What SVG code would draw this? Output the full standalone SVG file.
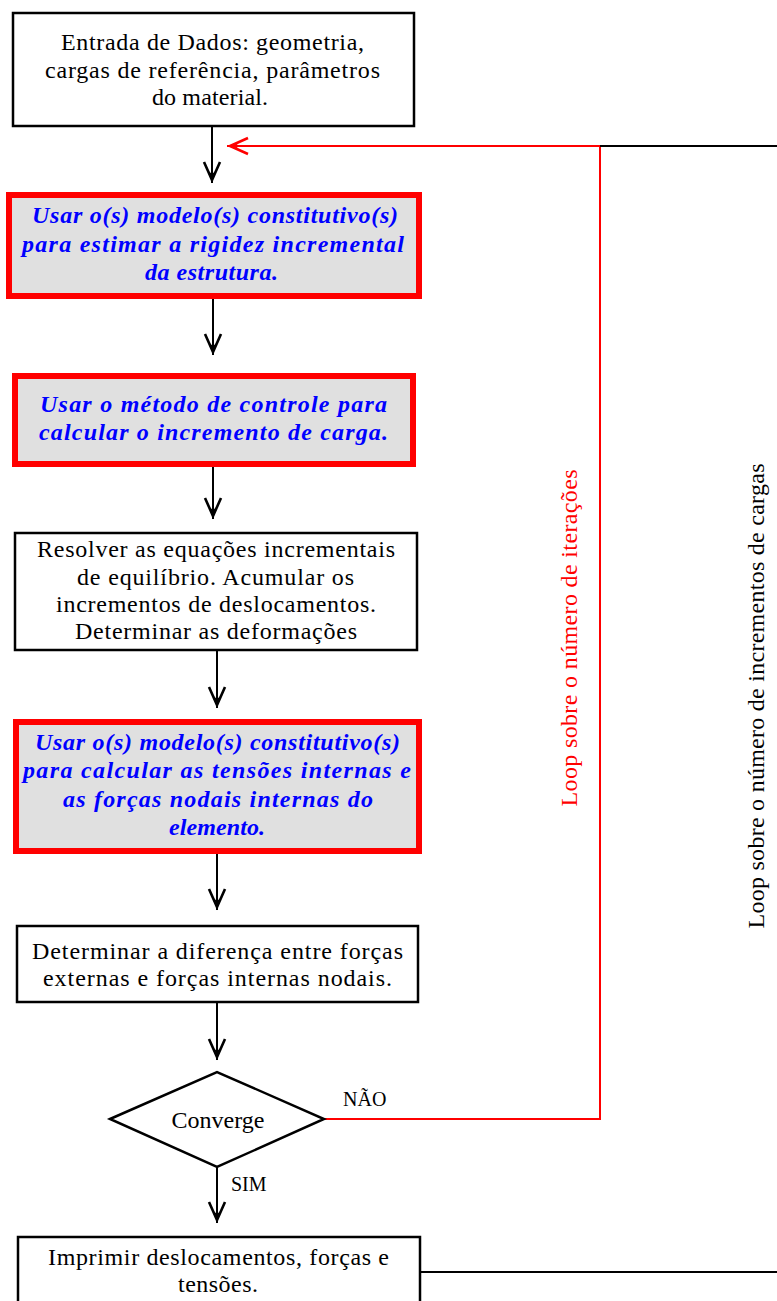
<svg xmlns="http://www.w3.org/2000/svg" width="777" height="1301" viewBox="0 0 777 1301">
  <style>
    text { font-family: "Liberation Serif", "Times New Roman", Tinos, Times, serif; }
    .box { fill: #ffffff; stroke: #000000; stroke-width: 2.5; }
    .hl { fill: #e0e0e0; stroke: #ff0000; stroke-width: 6; }
    .t { font-size: 24px; fill: #000000; text-anchor: middle; }
    .red { fill: #ff0000; }
    .bi { font-size: 24px; fill: #0000ff; font-weight: bold; font-style: italic; text-anchor: middle; }
    .lbl { font-size: 20px; fill: #000000; }
    .flow { fill: none; stroke: #000000; stroke-width: 2; }
    .loop { fill: none; stroke: #ff0000; stroke-width: 2; }
  </style>
  <defs>
    <!-- barbed chevron head: stroked wings plus a filled core near the tip -->
    <marker id="arrowK" markerUnits="userSpaceOnUse" markerWidth="28" markerHeight="24" viewBox="-25 -12 28 24" refX="0" refY="0" orient="auto">
      <path d="M-21,-8 L-3,0 L-21,8" fill="none" stroke="#000000" stroke-width="2.6" stroke-linejoin="miter"/>
      <path d="M-1,0 L-13,-4.8 L-9,0 L-13,4.8 Z" fill="#000000"/>
    </marker>
    <marker id="arrowR" markerUnits="userSpaceOnUse" markerWidth="28" markerHeight="24" viewBox="-25 -12 28 24" refX="0" refY="0" orient="auto">
      <path d="M-21,-8 L-3,0 L-21,8" fill="none" stroke="#ff0000" stroke-width="2.6" stroke-linejoin="miter"/>
      <path d="M-1,0 L-13,-4.8 L-9,0 L-13,4.8 Z" fill="#ff0000"/>
    </marker>
  </defs>

  <!-- connectors -->
  <g id="connectors">
    <line class="flow" x1="212" y1="127" x2="212" y2="183" marker-end="url(#arrowK)"/>
    <line class="flow" x1="213" y1="299" x2="213" y2="355" marker-end="url(#arrowK)"/>
    <line class="flow" x1="213" y1="467" x2="213" y2="519" marker-end="url(#arrowK)"/>
    <line class="flow" x1="217" y1="651" x2="217" y2="708" marker-end="url(#arrowK)"/>
    <line class="flow" x1="217" y1="854" x2="217" y2="910" marker-end="url(#arrowK)"/>
    <line class="flow" x1="217" y1="1003" x2="217" y2="1060" marker-end="url(#arrowK)"/>
    <line class="flow" x1="217" y1="1167" x2="217" y2="1223" marker-end="url(#arrowK)"/>
    <!-- iteration loop back to the stiffness step -->
    <polyline class="loop" points="324,1119 600,1119 600,146 227,146" marker-end="url(#arrowR)"/>
    <!-- load-increment loop -->
    <line class="flow" x1="600" y1="146" x2="777" y2="146"/>
    <line class="flow" x1="421" y1="1272" x2="777" y2="1272"/>
    <text class="lbl" x="343" y="1106">NÃO</text>
    <text class="lbl" x="231" y="1191">SIM</text>
    <text class="t red" transform="translate(577,638) rotate(-90)" textLength="337" lengthAdjust="spacing">Loop sobre o número de iterações</text>
    <text class="t" transform="translate(764,696) rotate(-90)" textLength="465" lengthAdjust="spacing">Loop sobre o número de incrementos de cargas</text>
  </g>

  <g id="entrada">
    <rect class="box" x="13" y="13" width="401" height="113"/>
    <text class="t" x="212.5" y="50" textLength="303" lengthAdjust="spacing">Entrada de Dados: geometria,</text>
    <text class="t" x="212.5" y="78" textLength="335" lengthAdjust="spacing">cargas de referência, parâmetros</text>
    <text class="t" x="210" y="105" textLength="116" lengthAdjust="spacing">do material.</text>
  </g>

  <g id="rigidez">
    <rect class="hl" x="9" y="195" width="410" height="101"/>
    <text class="bi" x="215" y="223" textLength="366" lengthAdjust="spacing">Usar o(s) modelo(s) constitutivo(s)</text>
    <text class="bi" x="213" y="252" textLength="382" lengthAdjust="spacing">para estimar a rigidez incremental</text>
    <text class="bi" x="211.5" y="280" textLength="133" lengthAdjust="spacing">da estrutura.</text>
  </g>

  <g id="controle">
    <rect class="hl" x="15" y="376" width="398" height="88"/>
    <text class="bi" x="213.5" y="412" textLength="347" lengthAdjust="spacing">Usar o método de controle para</text>
    <text class="bi" x="213.5" y="440" textLength="349" lengthAdjust="spacing">calcular o incremento de carga.</text>
  </g>

  <g id="resolver">
    <rect class="box" x="15" y="533" width="402" height="117"/>
    <text class="t" x="216" y="557" textLength="358" lengthAdjust="spacing">Resolver as equações incrementais</text>
    <text class="t" x="215.5" y="585" textLength="277" lengthAdjust="spacing">de equilíbrio. Acumular os</text>
    <text class="t" x="216" y="612" textLength="320" lengthAdjust="spacing">incrementos de deslocamentos.</text>
    <text class="t" x="216" y="639" textLength="282" lengthAdjust="spacing">Determinar as deformações</text>
  </g>

  <g id="tensoes">
    <rect class="hl" x="16" y="722" width="403" height="129"/>
    <text class="bi" x="217.5" y="750" textLength="365" lengthAdjust="spacing">Usar o(s) modelo(s) constitutivo(s)</text>
    <text class="bi" x="217" y="778" textLength="388" lengthAdjust="spacing">para calcular as tensões internas e</text>
    <text class="bi" x="218" y="807" textLength="310" lengthAdjust="spacing">as forças nodais internas do</text>
    <text class="bi" x="217" y="835" textLength="96" lengthAdjust="spacing">elemento.</text>
  </g>

  <g id="diferenca">
    <rect class="box" x="17" y="926" width="401" height="76"/>
    <text class="t" x="217.5" y="959" textLength="371" lengthAdjust="spacing">Determinar a diferença entre forças</text>
    <text class="t" x="217.5" y="986" textLength="349" lengthAdjust="spacing">externas e forças internas nodais.</text>
  </g>

  <g id="converge">
    <polygon class="box" points="110,1119 217,1072 324,1119 217,1167"/>
    <text class="t" x="218" y="1128">Converge</text>
  </g>

  <g id="imprimir">
    <rect class="box" x="18" y="1237" width="402" height="80"/>
    <text class="t" x="218.5" y="1265" textLength="341" lengthAdjust="spacing">Imprimir deslocamentos, forças e</text>
    <text class="t" x="218" y="1292" textLength="80" lengthAdjust="spacing">tensões.</text>
  </g>
</svg>
